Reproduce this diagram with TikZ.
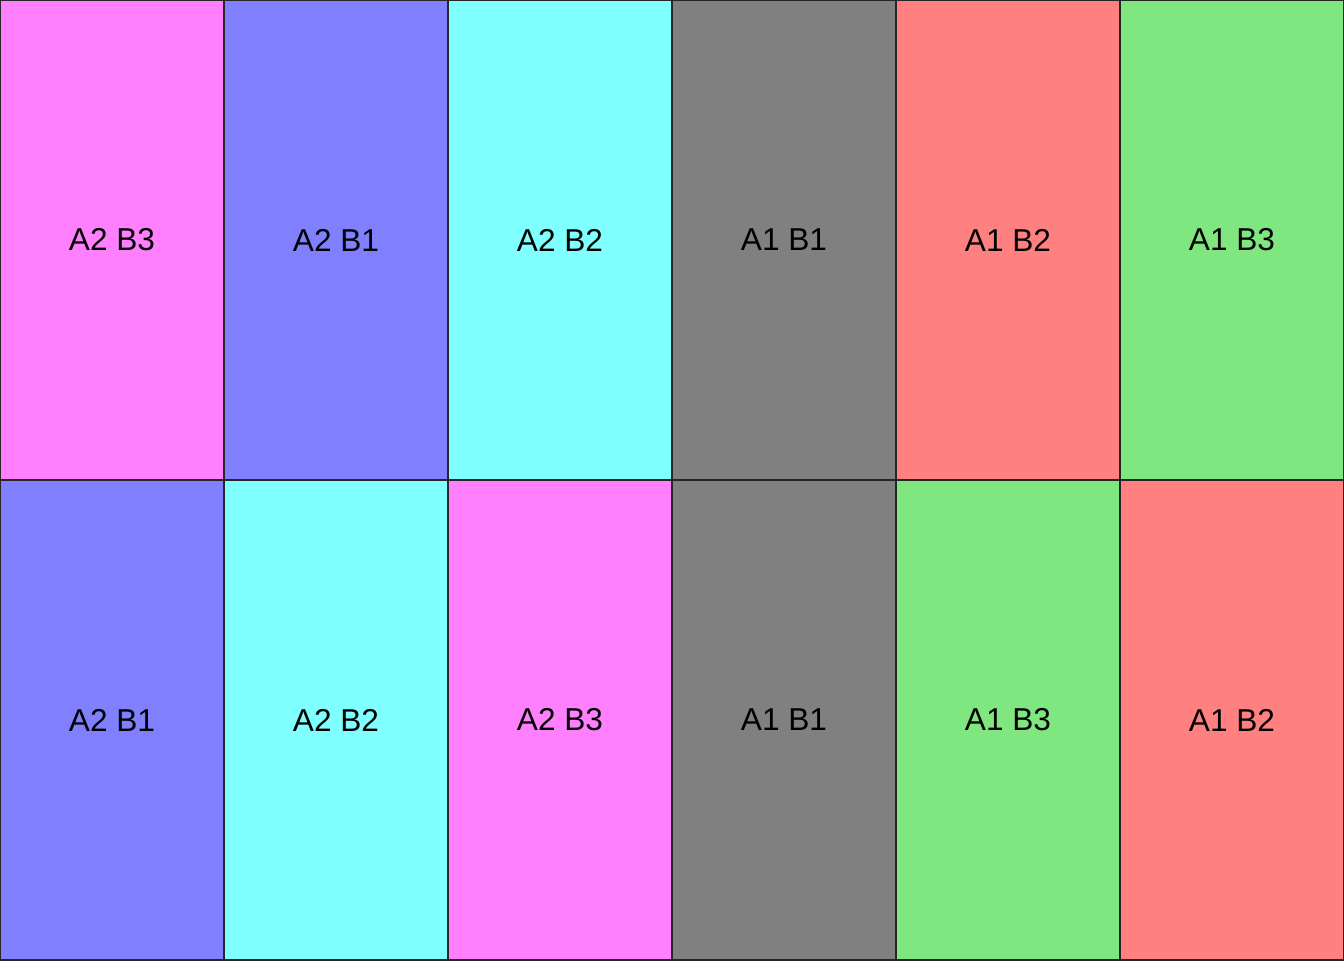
\documentclass[tikz,border=0pt]{standalone}
\usepackage{fontspec}
\setmainfont{Liberation Sans}
\usepackage{xcolor}
\usepackage{tikz}
\usetikzlibrary{positioning}
\definecolor{cellmagenta}{HTML}{FF80FF}
\definecolor{cellblue}{HTML}{8080FF}
\definecolor{cellcyan}{HTML}{80FFFF}
\definecolor{cellgray}{HTML}{808080}
\definecolor{cellred}{HTML}{FF8080}
\definecolor{cellgreen}{HTML}{80E680}
\tikzstyle{cell} = [rectangle, minimum width=4.48cm, minimum height=9.6cm, inner sep=0pt, outer sep=0pt, text centered, draw=black!85, line width=0.6pt, font=\fontsize{18}{22}\selectfont]

\begin{document}
\begin{tikzpicture}[node distance=0cm]
        \useasboundingbox (0,0) rectangle (26.88,-19.2);
        % upper row
        \node (top1) [cell, fill=cellmagenta, anchor=north west] at (0,0) {A2 B3};
        \node (top2) [cell, fill=cellblue, right=of top1] {A2 B1};
        \node (top3) [cell, fill=cellcyan, right=of top2] {A2 B2};
        \node (top4) [cell, fill=cellgray, right=of top3] {A1 B1};
        \node (top5) [cell, fill=cellred, right=of top4] {A1 B2};
        \node (top6) [cell, fill=cellgreen, right=of top5] {A1 B3};

        % lower row
        \node (bot1) [cell, fill=cellblue, below=of top1] {A2 B1};
        \node (bot2) [cell, fill=cellcyan, right=of bot1] {A2 B2};
        \node (bot3) [cell, fill=cellmagenta, right=of bot2] {A2 B3};
        \node (bot4) [cell, fill=cellgray, right=of bot3] {A1 B1};
        \node (bot5) [cell, fill=cellgreen, right=of bot4] {A1 B3};
        \node (bot6) [cell, fill=cellred, right=of bot5] {A1 B2};
    \end{tikzpicture}
\end{document}
